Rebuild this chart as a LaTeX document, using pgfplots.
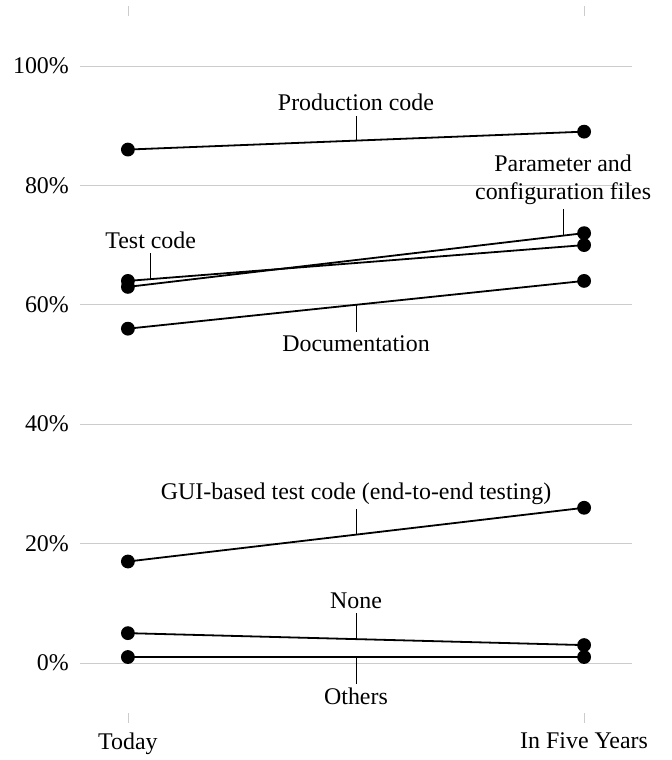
\documentclass[border=0pt]{standalone}
\usepackage{fontspec}
\setmainfont{Liberation Serif}
\usepackage{pgfplots}
\pgfplotsset{compat=1.18}
\begin{document}
\fontsize{24}{28}\selectfont
\begin{tikzpicture}[x=1bp,y=1bp]
\path[use as bounding box] (-80,-37.3) rectangle (592,722.7);
\begin{axis}[at={(0,0)}, anchor=south west, scale only axis,
  width=552bp, height=716.4bp,
  xmin=-0.105, xmax=1.105, ymin=-10, ymax=110,
  clip=false,
  axis line style={draw=none},
  xtick={0,1}, xticklabels={Today, In Five Years},
  xtick pos=both, xticklabel pos=bottom,
  tick align=inside, major tick length=10bp,
  xtick style={gray!40, line width=0.8bp},
  ytick={0,20,40,60,80,100},
  ytick style={draw=none},
  ymajorgrids, grid style={gray!40, line width=0.8bp},
  yticklabel={\pgfmathprintnumber{\tick}\%},
  /pgf/number format/assume math mode=true,
  every tick label/.append style={font=\fontsize{24}{28}\selectfont},
  yticklabel style={xshift=-3bp},
  xticklabel style={yshift=-2bp},
]
\pgfplotsset{ln/.style={black, line width=1.8bp, mark=*, mark size=6bp, mark options={solid, fill=black}}}
\addplot[ln] coordinates {(0,86) (1,89)};
\addplot[ln] coordinates {(0,64) (1,70)};
\addplot[ln] coordinates {(0,63) (1,72)};
\addplot[ln] coordinates {(0,56) (1,64)};
\addplot[ln] coordinates {(0,17) (1,26)};
\addplot[ln] coordinates {(0,5) (1,3)};
\addplot[ln] coordinates {(0,1) (1,1)};
\draw[black, line width=0.8bp] (axis cs:0.5,87.5) -- (axis cs:0.5,91.7) node[above, inner sep=4bp] {Production code};
\draw[black, line width=0.8bp] (axis cs:0.05,64.3) -- (axis cs:0.05,68.7) node[above, inner sep=4bp] {Test code};
\draw[black, line width=0.8bp] (axis cs:0.954,71.6) -- (axis cs:0.954,76) node[above, inner sep=4bp, align=center] {Parameter and\\configuration files};
\draw[black, line width=0.8bp] (axis cs:0.5,60) -- (axis cs:0.5,55.5) node[below, inner sep=4bp] {Documentation};
\draw[black, line width=0.8bp] (axis cs:0.5,21.5) -- (axis cs:0.5,25.8) node[above, inner sep=4bp] {GUI-based test code (end-to-end testing)};
\draw[black, line width=0.8bp] (axis cs:0.5,4) -- (axis cs:0.5,8.4) node[above, inner sep=4bp] {None};
\draw[black, line width=0.8bp] (axis cs:0.5,1) -- (axis cs:0.5,-3.5) node[below, inner sep=4bp] {Others};
\end{axis}
\end{tikzpicture}
\end{document}
